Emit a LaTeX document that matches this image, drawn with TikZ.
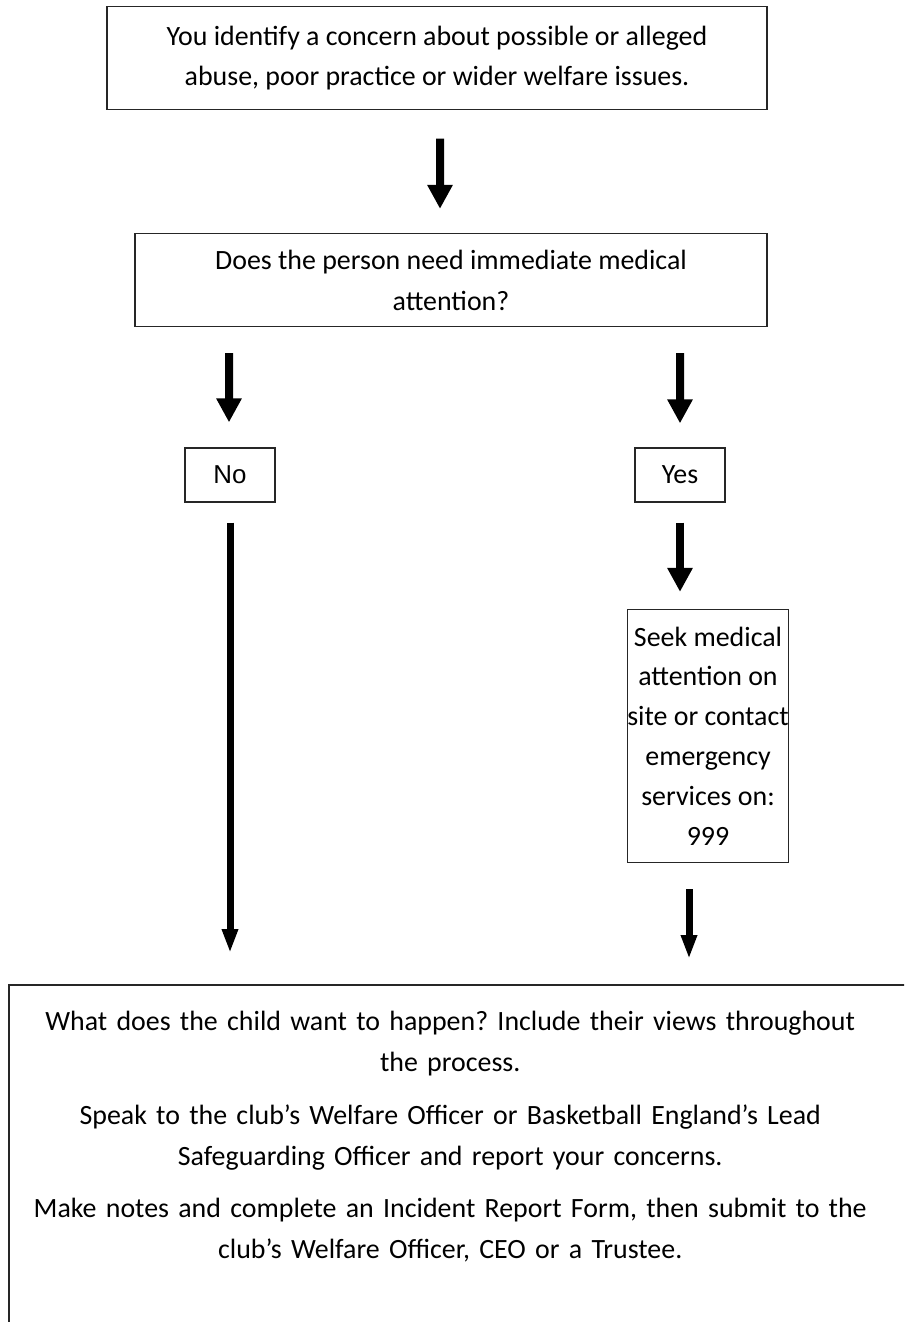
\documentclass[tikz,border=0pt]{standalone}
\usepackage{fontspec}
\setmainfont{Carlito}
\newfontfamily\arialfont{Liberation Sans}
\usetikzlibrary{arrows.meta}
\frenchspacing
\begin{document}
\begin{tikzpicture}[x=1bp,y=-1bp,
  boxline/.style={draw=black!85,line width=1.3bp},
  box/.style={boxline,align=center,inner sep=0pt,font=\fontsize{28}{41}\selectfont},
  bigarrow/.style={line width=8bp,-{Triangle[width=24bp,length=24bp]}},
  slimarrow/.style={line width=7bp,-{Triangle[width=15bp,length=24bp]}}]
\useasboundingbox (0,0) rectangle (904,1322);
\fill[white] (0,0) rectangle (904,1322);
\clip (0,0) rectangle (904,1322);
\node[box,minimum width=660bp,minimum height=103bp] (concern) at (437,58)
  {You identify a concern about possible or alleged\\abuse, poor practice or wider welfare issues.};
\node[box,minimum width=632bp,minimum height=93bp] (medical) at (451,280)
  {Does the person need immediate medical\\attention?};
\node[box,minimum width=90bp,minimum height=54bp,font=\arialfont\fontsize{26}{30}\selectfont] (no) at (230,475) {No};
\node[box,minimum width=90bp,minimum height=54bp] (yes) at (680,475) {Yes};
\node[box,minimum width=161bp,minimum height=253bp,font=\fontsize{28}{40}\selectfont] (seek) at (708,736)
  {Seek medical\\attention on\\site or contact\\emergency\\services on:\\999};
\node[align=center,inner sep=0pt,text width=882bp,anchor=north west,font=\fontsize{28}{41}\selectfont] (views) at (9,1011)
  {What does the child want to happen? Include their views throughout\\the process.\\[12bp]
   Speak to the club’s Welfare Officer or Basketball England’s Lead\\Safeguarding Officer and report your concerns.\\[12bp]
   Make notes and complete an Incident Report Form, then submit to the\\club’s Welfare Officer, CEO or a Trustee.};
\draw[boxline] ([yshift=26bp]views.north west) ++(0,400) -- ([yshift=26bp]views.north west) -- ++(960,0);
% connectors
\draw[bigarrow,shorten <=28.5bp,shorten >=24bp] ([xshift=3bp]concern.south) -- ([xshift=-11bp]medical.north);
\draw[bigarrow,shorten <=26bp,shorten >=25bp] ([xshift=-222bp]medical.south) -- ([xshift=-1bp]no.north);
\draw[bigarrow,shorten <=26bp,shorten >=24bp] ([xshift=229bp]medical.south) -- (yes.north);
\draw[slimarrow,shorten <=20bp,shorten >=58bp] (no.south) -- (no.south |- views.north);
\draw[bigarrow,shorten <=20bp,shorten >=17bp] (yes.south) -- (yes.south |- seek.north);
\draw[slimarrow,shorten <=26bp,shorten >=52bp] ([xshift=-19bp]seek.south) -- ([xshift=-19bp]seek.south |- views.north);
\end{tikzpicture}
\end{document}
